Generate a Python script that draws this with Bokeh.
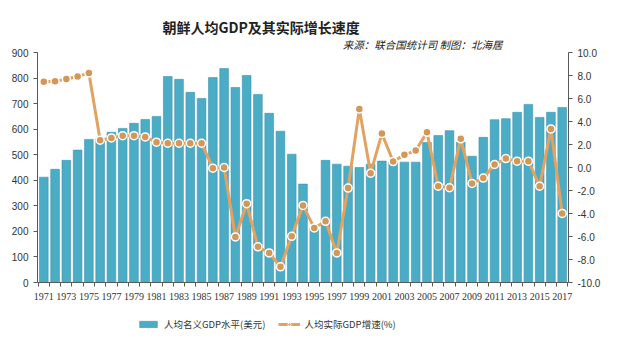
from bokeh.plotting import figure
from bokeh.layouts import column
from bokeh.models import (Range1d, LinearAxis, FixedTicker, NumeralTickFormatter,
                          Legend, LegendItem, Title, ColumnDataSource)
from bokeh.embed import file_html
from bokeh.resources import INLINE

title_text = "朝鲜人均GDP及其实际增长速度"
subtitle_text = "来源：联合国统计司 制图：北海居"
bar_label = "人均名义GDP水平(美元)"
line_label = "人均实际GDP增速(%)"

years = list(range(1971, 2018))
gdp = [412, 443, 478, 518, 560,
       562, 588, 603, 623, 638,
       650, 806, 795, 744, 720,
       802, 837, 763, 810, 736,
       662, 592, 502, 385, 215,
       478, 463, 455, 450, 463,
       475, 471, 471, 471, 548,
       575, 594, 549, 494, 568,
       637, 641, 666, 697, 646,
       666, 685]
growth = [7.46, 7.49, 7.69, 7.92, 8.21,
          2.37, 2.57, 2.77, 2.77, 2.66,
          2.20, 2.11, 2.11, 2.11, 2.11,
          -0.06, 0.00, -6.04, -3.15, -6.90,
          -7.43, -8.64, -5.98, -3.30, -5.26,
          -4.68, -7.43, -1.79, 5.09, -0.49,
          2.95, 0.52, 1.10, 1.47, 3.06,
          -1.62, -1.76, 2.49, -1.39, -0.92,
          0.26, 0.78, 0.55, 0.55, -1.62,
          3.35, -3.99]
left_ticks = list(range(0, 1000, 100))
right_ticks = list(range(-10, 12, 2))
x_label_years = list(range(1971, 2018, 2))

src = ColumnDataSource(dict(year=years, gdp=gdp, growth=growth))

CJK = "Noto Sans CJK SC"
LAT = "Liberation Sans"
AX = "#595959"
BAR_FILL = "#4BACC6"
BAR_LINE = "#3D93AC"
LINE_COL = "#E2A262"
MARK_COL = "#D39758"

p = figure(width=609, height=305, output_backend="svg", toolbar_location=None,
           x_range=Range1d(1970.44, 2017.56), y_range=Range1d(0, 900),
           min_border_left=37, min_border_right=41, min_border_top=52,
           min_border_bottom=23)
p.extra_y_ranges = {"g": Range1d(-10, 10)}
p.xgrid.visible = False
p.ygrid.visible = False
p.outline_line_color = None
p.background_fill_color = "white"

# titles
p.add_layout(Title(text=subtitle_text, align="right", text_font=CJK,
                   text_font_size="10.5px", text_font_style="italic",
                   text_color="#222222", offset=66, standoff=1), "above")
p.add_layout(Title(text=title_text, align="left", text_font=CJK,
                   text_font_size="14px", text_font_style="bold",
                   text_color="#222222", offset=125, standoff=-5), "above")

bars = p.vbar(x="year", top="gdp", width=0.77, source=src,
              fill_color=BAR_FILL, line_color=BAR_LINE, line_width=0.6)
ln = p.line(x="year", y="growth", source=src, y_range_name="g",
            line_color=LINE_COL, line_width=3)
pts = p.scatter(x="year", y="growth", source=src, y_range_name="g",
                size=8, fill_color=MARK_COL, line_color="white", line_width=1.5)

# left axis
ya = p.yaxis[0]
ya.ticker = FixedTicker(ticks=left_ticks)
ya.major_tick_out = 4
ya.major_tick_in = 0
ya.minor_tick_out = 0
ya.axis_line_color = AX
ya.major_tick_line_color = AX
ya.major_label_text_font = LAT
ya.major_label_text_font_size = "10px"
ya.major_label_text_color = "#333333"
ya.major_label_standoff = 5

# right axis
ra = LinearAxis(y_range_name="g", ticker=FixedTicker(ticks=right_ticks),
                formatter=NumeralTickFormatter(format="0.0"))
ra.major_tick_out = 4
ra.major_tick_in = 0
ra.minor_tick_out = 0
ra.axis_line_color = AX
ra.major_tick_line_color = AX
ra.major_label_text_font = LAT
ra.major_label_text_font_size = "10px"
ra.major_label_text_color = "#333333"
ra.major_label_standoff = 5
p.add_layout(ra, "right")

# x axis
xa = p.xaxis[0]
xa.ticker = FixedTicker(ticks=x_label_years,
                        minor_ticks=[y - 0.5 for y in years] + [years[-1] + 0.5])
xa.major_tick_out = 0
xa.major_tick_in = 0
xa.minor_tick_out = 4
xa.minor_tick_in = 0
xa.axis_line_color = AX
xa.minor_tick_line_color = AX
xa.major_label_text_font = "Liberation Sans Narrow"
xa.major_label_text_font_size = "10px"
xa.major_label_text_color = "#333333"
xa.major_label_standoff = 6

# legend strip below the chart (same data, hidden renderers, only the key shows)
q = figure(width=609, height=35, output_backend="svg", toolbar_location=None,
           x_axis_location=None, y_axis_location=None,
           x_range=Range1d(1970.44, 2017.56), y_range=Range1d(0, 900),
           min_border=0)
q.extra_y_ranges = {"g": Range1d(-10, 10)}
q.xgrid.visible = False
q.ygrid.visible = False
q.outline_line_color = None
kb = q.vbar(x="year", top="gdp", width=0.77, source=src,
            fill_color=BAR_FILL, line_color=BAR_LINE, line_width=0.6, visible=False)
kl = q.line(x="year", y="growth", source=src, y_range_name="g",
            line_color=LINE_COL, line_width=3, visible=False)
kp = q.scatter(x="year", y="growth", source=src, y_range_name="g",
               size=6, fill_color=MARK_COL, line_color="white", line_width=1,
               visible=False)
legend = Legend(items=[LegendItem(label=bar_label, renderers=[kb]),
                       LegendItem(label=line_label, renderers=[kl, kp])],
                orientation="horizontal", location=(100, 8),
                label_text_font=CJK, label_text_font_size="9.5px",
                label_text_color="#333333", glyph_width=22, glyph_height=8,
                label_height=16, spacing=12, padding=0, margin=0,
                border_line_color=None, background_fill_alpha=0,
                inactive_fill_alpha=0)
q.add_layout(legend, "center")

open("out.html", "w").write(file_html(column(p, q), INLINE))
